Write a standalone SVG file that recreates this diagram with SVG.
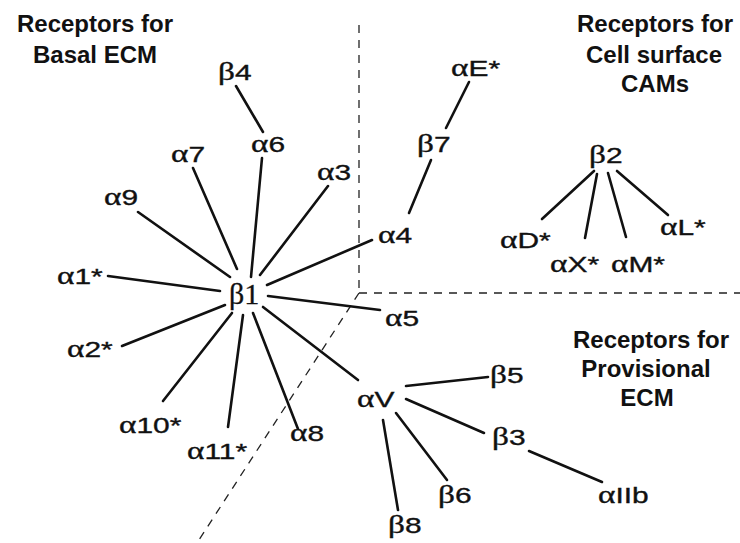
<svg xmlns="http://www.w3.org/2000/svg" width="740" height="543" viewBox="0 0 740 543">
<style>
.title{font-family:"Liberation Sans",Arial,sans-serif;font-weight:bold;font-size:24px;fill:#111;text-anchor:middle}
.lbl{font-family:"Liberation Sans",Arial,sans-serif;font-size:22.5px;fill:#111;stroke:#111;stroke-width:0.35}
.g{font-family:"Liberation Serif","Times New Roman",serif;font-size:25px}
.b1{font-family:"Liberation Serif","Times New Roman",serif;font-size:30px;fill:#111;stroke:#111;stroke-width:0.3}
.edge{stroke:#111;stroke-width:2.6;stroke-linecap:round;fill:none}
.div{stroke:#222;stroke-width:1.3;stroke-dasharray:8 7;fill:none}
</style>
<rect width="740" height="543" fill="#fff"/>
<g id="dividers">
<line class="div" x1="359" y1="25" x2="359" y2="293"/>
<line class="div" x1="359" y1="293" x2="740" y2="293"/>
<line class="div" x1="359" y1="293" x2="197" y2="543"/>
</g>
<g id="titles">
<text class="title" x="95" y="32">Receptors for</text>
<text class="title" x="95" y="63">Basal ECM</text>
<text class="title" x="655" y="32">Receptors for</text>
<text class="title" x="654" y="63">Cell surface</text>
<text class="title" x="655" y="92">CAMs</text>
<text class="title" x="651" y="348">Receptors for</text>
<text class="title" x="646" y="377">Provisional</text>
<text class="title" x="647" y="406">ECM</text>
</g>
<g id="connectors">
<line class="edge" x1="236" y1="86" x2="263" y2="132"/>
<line class="edge" x1="262" y1="158" x2="251" y2="277"/>
<line class="edge" x1="193" y1="168" x2="237" y2="269"/>
<line class="edge" x1="328" y1="186" x2="260" y2="275"/>
<line class="edge" x1="138" y1="212" x2="230" y2="277"/>
<line class="edge" x1="267" y1="285" x2="372" y2="240"/>
<line class="edge" x1="108" y1="276" x2="220" y2="291"/>
<line class="edge" x1="122" y1="346" x2="225" y2="305"/>
<line class="edge" x1="163" y1="401" x2="232" y2="313"/>
<line class="edge" x1="228" y1="427" x2="243" y2="315"/>
<line class="edge" x1="298" y1="429" x2="253" y2="313"/>
<line class="edge" x1="263" y1="307" x2="358" y2="380"/>
<line class="edge" x1="268" y1="296" x2="380" y2="310"/>
<line class="edge" x1="469" y1="82" x2="446" y2="128"/>
<line class="edge" x1="431" y1="160" x2="409" y2="213"/>
<line class="edge" x1="594" y1="171" x2="542" y2="219"/>
<line class="edge" x1="597" y1="174" x2="585" y2="238"/>
<line class="edge" x1="608" y1="173" x2="626" y2="237"/>
<line class="edge" x1="617" y1="171" x2="668" y2="215"/>
<line class="edge" x1="406" y1="386" x2="488" y2="377"/>
<line class="edge" x1="406" y1="399" x2="484" y2="433"/>
<line class="edge" x1="529" y1="451" x2="602" y2="482"/>
<line class="edge" x1="396" y1="413" x2="447" y2="480"/>
<line class="edge" x1="383" y1="420" x2="398" y2="510"/>
</g>
<g id="n-b1"><text class="b1" x="229" y="304">β1</text></g>
<g id="n-b4"><text class="lbl" transform="translate(218 80) scale(1.33 1)"><tspan class="g">β</tspan>4</text></g>
<g id="n-a6"><text class="lbl" transform="translate(251 152) scale(1.33 1)"><tspan class="g">α</tspan>6</text></g>
<g id="n-a7"><text class="lbl" transform="translate(171 162) scale(1.33 1)"><tspan class="g">α</tspan>7</text></g>
<g id="n-a3"><text class="lbl" transform="translate(317 180) scale(1.33 1)"><tspan class="g">α</tspan>3</text></g>
<g id="n-a9"><text class="lbl" transform="translate(104 205) scale(1.33 1)"><tspan class="g">α</tspan>9</text></g>
<g id="n-a1"><text class="lbl" transform="translate(57 284) scale(1.33 1)"><tspan class="g">α</tspan>1*</text></g>
<g id="n-a2"><text class="lbl" transform="translate(67 357) scale(1.33 1)"><tspan class="g">α</tspan>2*</text></g>
<g id="n-a10"><text class="lbl" transform="translate(119 433) scale(1.33 1)"><tspan class="g">α</tspan>10*</text></g>
<g id="n-a11"><text class="lbl" transform="translate(187 459) scale(1.33 1)"><tspan class="g">α</tspan>11*</text></g>
<g id="n-a8"><text class="lbl" transform="translate(290 441) scale(1.33 1)"><tspan class="g">α</tspan>8</text></g>
<g id="n-a5"><text class="lbl" transform="translate(385 326) scale(1.33 1)"><tspan class="g">α</tspan>5</text></g>
<g id="n-a4"><text class="lbl" transform="translate(378 243) scale(1.33 1)"><tspan class="g">α</tspan>4</text></g>
<g id="n-b7"><text class="lbl" transform="translate(417 152) scale(1.33 1)"><tspan class="g">β</tspan>7</text></g>
<g id="n-aE"><text class="lbl" transform="translate(451 76) scale(1.33 1)"><tspan class="g">α</tspan>E*</text></g>
<g id="n-b2"><text class="lbl" transform="translate(589 163) scale(1.33 1)"><tspan class="g">β</tspan>2</text></g>
<g id="n-aD"><text class="lbl" transform="translate(500 248) scale(1.33 1)"><tspan class="g">α</tspan>D*</text></g>
<g id="n-aX"><text class="lbl" transform="translate(550 272) scale(1.33 1)"><tspan class="g">α</tspan>X*</text></g>
<g id="n-aM"><text class="lbl" transform="translate(611 272) scale(1.33 1)"><tspan class="g">α</tspan>M*</text></g>
<g id="n-aL"><text class="lbl" transform="translate(660 235) scale(1.33 1)"><tspan class="g">α</tspan>L*</text></g>
<g id="n-aV"><text class="lbl" transform="translate(357 407) scale(1.33 1)"><tspan class="g">α</tspan>V</text></g>
<g id="n-b5"><text class="lbl" transform="translate(490 383) scale(1.33 1)"><tspan class="g">β</tspan>5</text></g>
<g id="n-b3"><text class="lbl" transform="translate(492 445) scale(1.33 1)"><tspan class="g">β</tspan>3</text></g>
<g id="n-aIIb"><text class="lbl" transform="translate(598 503) scale(1.33 1)"><tspan class="g">α</tspan>IIb</text></g>
<g id="n-b6"><text class="lbl" transform="translate(438 503) scale(1.33 1)"><tspan class="g">β</tspan>6</text></g>
<g id="n-b8"><text class="lbl" transform="translate(388 533) scale(1.33 1)"><tspan class="g">β</tspan>8</text></g>
</svg>
